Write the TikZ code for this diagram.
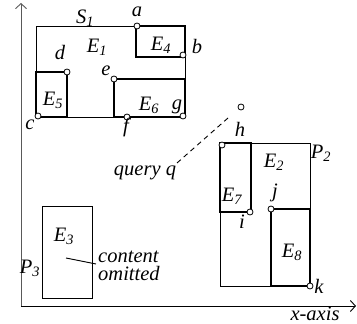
\documentclass[tikz,border=0pt]{standalone}
\usepackage{fontspec}
\setmainfont{Liberation Serif}
\usetikzlibrary{arrows.meta}
\begin{document}
\begin{tikzpicture}[x=1pt,y=-1pt,
  thinline/.style={line width=0.9pt},
  thickline/.style={line width=2.9pt},
  pt/.style={circle,draw,fill=white,line width=0.8pt,inner sep=0pt,minimum size=6pt},
  lab/.style={font=\fontsize{20.5}{17.5}\selectfont\itshape,inner sep=0pt,align=left},
  axis/.style={line width=0.9pt,-{Straight Barb[length=5pt,width=11pt]}}]
\useasboundingbox (0,0) rectangle (357,324);
% axes
\coordinate (o) at (21,306);
\coordinate (ytop) at (21,3);
\coordinate (xend) at (356,306);
\draw[axis,black!65] (o) -- (ytop);
\draw[axis] (o) -- (xend);
% S1 region
\draw[thinline] (36,26) rectangle (185,117);
\draw[thickline] (136,26) rectangle (185,57);
\draw[thickline] (36,72) rectangle (67,117);
\draw[thickline] (114,79) rectangle (185,117);
% P2 region
\draw[thinline] (220,143) rectangle (310,286);
\draw[thickline] (220,143) rectangle (251,212);
\draw[thickline] (271,209) rectangle (310,286);
% P3 region
\draw[thinline] (42,206) rectangle (92,298);
% points
\node[pt] (a) at (137,26) {};
\node[pt] (b) at (183,55) {};
\node[pt] (d) at (67,72) {};
\node[pt] (e) at (114,79) {};
\node[pt] (c) at (38,116) {};
\node[pt] (f) at (127,117) {};
\node[pt] (g) at (183,116) {};
\node[pt] (q) at (241,107) {};
\node[pt] (h) at (222,145) {};
\node[pt] (i) at (250,212) {};
\node[pt] (j) at (271,209) {};
\node[pt] (k) at (310,286) {};
% labels
\node[lab] (lS1) at (85,18) {S\textsubscript{1}};
\node[lab] (la) at (137,12) {a};
\node[lab] (lE1) at (97,47) {E\textsubscript{1}};
\node[lab] (lb) at (197,46) {b};
\node[lab] (lE4) at (161,45) {E\textsubscript{4}};
\node[lab] (ld) at (60,52) {d};
\node[lab] (le) at (106,71) {e};
\node[lab] (lE5) at (53,100) {E\textsubscript{5}};
\node[lab] (lE6) at (149,105) {E\textsubscript{6}};
\node[lab] (lg) at (177,107) {g};
\node[lab] (lc) at (30,125) {c};
\node[lab] (lf) at (126,127) {f};
\node[lab] (lh) at (240,129) {h};
\node[lab] (lE2) at (274,162) {E\textsubscript{2}};
\node[lab] (lP2) at (321,153) {P\textsubscript{2}};
\node[lab] (lE7) at (232,196) {E\textsubscript{7}};
\node[lab] (lj) at (275,193) {j};
\node[lab] (li) at (242,222) {i};
\node[lab] (lE8) at (292,252) {E\textsubscript{8}};
\node[lab] (lk) at (319,286) {k};
\node[lab] (lx) at (315,314) {x-axis};
\node[lab] (lE3) at (64,236) {E\textsubscript{3}};
\node[lab] (lP3) at (30,268) {P\textsubscript{3}};
\node[lab,anchor=west,font=\fontsize{20.5}{18.5}\selectfont\itshape] (lco) at (98,266) {content\\omitted};
\node[lab] (lq) at (145,173) {query q};
% connectors
\coordinate (qs) at (228,118);
\coordinate (qe) at (177,163);
\draw[thinline,dashed,dash pattern=on 5pt off 4pt] (qs) -- (qe);
\coordinate (e3c) at (66,258);
\coordinate (e3r) at (96,264);
\draw[thinline] (e3c) -- (e3r);
\end{tikzpicture}
\end{document}
